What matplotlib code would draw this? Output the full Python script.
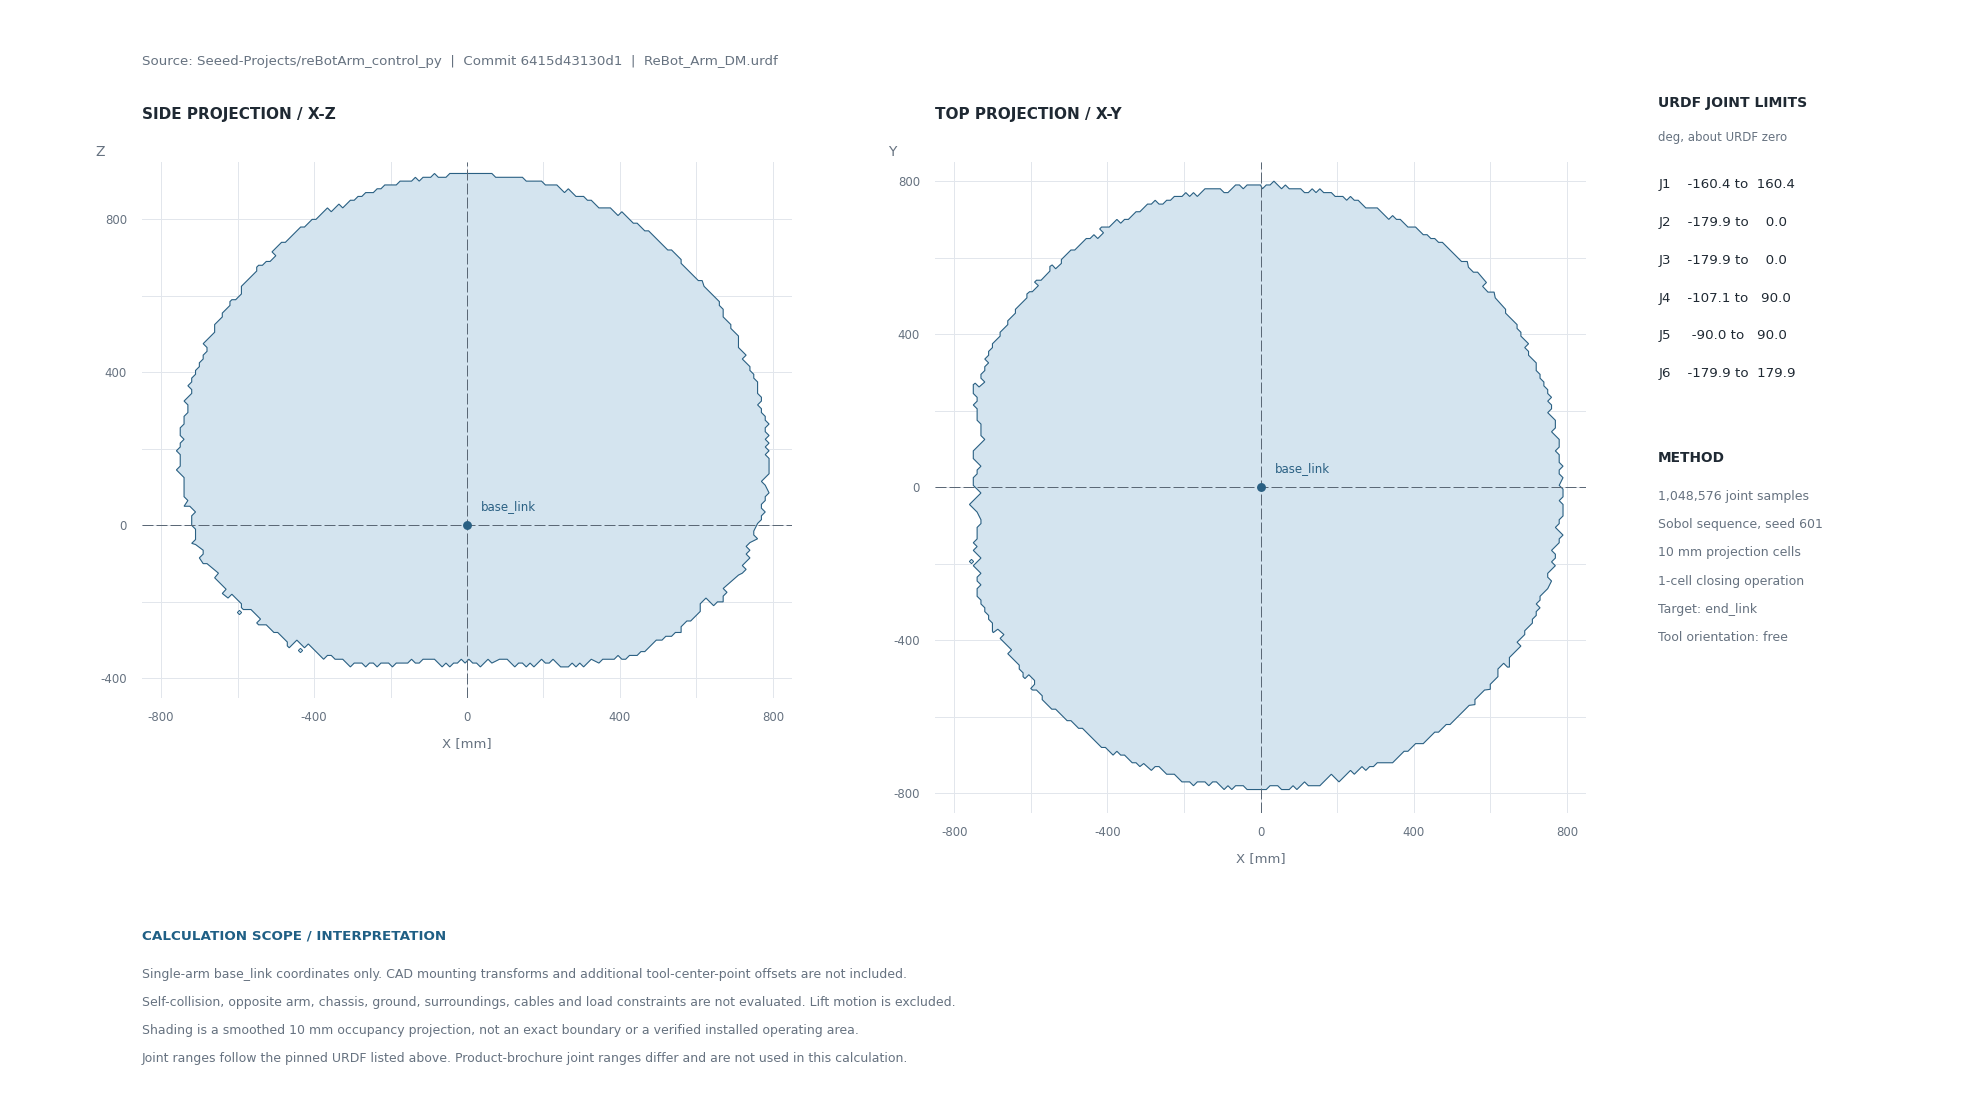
import numpy as np
import matplotlib
matplotlib.use("Agg")
import matplotlib.pyplot as plt

W, H = 1985, 1100

# outline of the side projection, X and Z in mm
side_outline = [
    (-740, 225), (-750, 235), (-750, 255), (-740, 265), (-740, 285), (-730, 295), (-730, 315), (-740, 325),
    (-720, 345), (-720, 355), (-730, 365), (-720, 375), (-720, 385), (-710, 395), (-710, 405), (-700, 415),
    (-700, 425), (-690, 435), (-690, 445), (-680, 455), (-680, 465), (-690, 475), (-660, 505), (-660, 525),
    (-640, 545), (-640, 555), (-620, 575), (-620, 585), (-615, 590), (-605, 590), (-590, 605), (-590, 625),
    (-550, 665), (-550, 675), (-545, 680), (-535, 680), (-525, 690), (-515, 690), (-500, 705), (-510, 715),
    (-485, 740), (-475, 740), (-435, 780), (-425, 780), (-405, 800), (-395, 800), (-365, 830), (-355, 820),
    (-335, 840), (-325, 830), (-305, 850), (-295, 850), (-285, 860), (-275, 860), (-265, 870), (-245, 870),
    (-235, 880), (-225, 880), (-215, 890), (-185, 890), (-175, 900), (-145, 900), (-135, 910), (-125, 900),
    (-115, 910), (-95, 910), (-85, 920), (-75, 910), (-55, 910), (-45, 920), (65, 920), (75, 910),
    (145, 910), (155, 900), (195, 900), (205, 890), (235, 890), (255, 870), (265, 880), (285, 860),
    (305, 860), (315, 850), (325, 850), (345, 830), (375, 830), (395, 810), (405, 820), (435, 790),
    (445, 790), (465, 770), (475, 770), (525, 720), (535, 720), (560, 695), (560, 685), (605, 640),
    (615, 640), (620, 625), (660, 585), (660, 575), (670, 565), (670, 545), (690, 525), (690, 515),
    (710, 495), (710, 465), (730, 445), (720, 435), (740, 415), (740, 405), (750, 395), (750, 385),
    (760, 375), (760, 345), (770, 335), (770, 325), (760, 315), (770, 305), (770, 295), (780, 285),
    (780, 275), (790, 265), (780, 255), (780, 245), (790, 235), (780, 225), (790, 215), (780, 205),
    (790, 195), (780, 185), (790, 175), (790, 135), (770, 115), (780, 105), (790, 85), (780, 75),
    (780, 65), (770, 55), (770, 45), (780, 35), (770, 25), (770, 15), (760, 5), (750, -15),
    (750, -25), (760, -35), (740, -45), (730, -55), (740, -65), (730, -75), (740, -85), (720, -105),
    (730, -115), (720, -125), (710, -130), (670, -165), (680, -175), (670, -185), (670, -200), (655, -200),
    (645, -210), (625, -190), (610, -205), (610, -225), (585, -250), (575, -250), (560, -265), (560, -280),
    (545, -280), (535, -290), (520, -290), (510, -300), (495, -300), (465, -330), (455, -330), (445, -340),
    (425, -340), (415, -350), (405, -350), (395, -340), (385, -350), (355, -350), (345, -360), (325, -350),
    (305, -370), (295, -360), (285, -370), (275, -360), (265, -370), (245, -370), (225, -350), (215, -360),
    (205, -360), (195, -350), (175, -370), (165, -360), (155, -370), (145, -360), (135, -360), (125, -370),
    (105, -350), (85, -350), (65, -360), (55, -350), (35, -370), (25, -360), (15, -360), (5, -350),
    (-5, -360), (-15, -350), (-25, -360), (-35, -360), (-45, -370), (-55, -360), (-65, -370), (-75, -360),
    (-85, -350), (-115, -350), (-125, -360), (-135, -360), (-145, -350), (-155, -360), (-185, -360), (-195, -370),
    (-205, -360), (-225, -360), (-235, -370), (-245, -360), (-255, -360), (-265, -370), (-275, -360), (-295, -360),
    (-305, -370), (-325, -350), (-345, -350), (-355, -340), (-365, -340), (-375, -350), (-415, -310), (-425, -320),
    (-445, -300), (-465, -320), (-470, -315), (-470, -305), (-495, -280), (-505, -280), (-525, -260), (-545, -260),
    (-550, -255), (-540, -245), (-565, -220), (-585, -220), (-590, -215), (-590, -205), (-615, -180), (-625, -190),
    (-640, -178), (-630, -167), (-660, -137), (-650, -125), (-680, -100), (-690, -100), (-700, -85), (-690, -75),
    (-690, -65), (-710, -50), (-720, -47), (-710, -37), (-710, -10), (-720, 0), (-720, 25), (-710, 35),
    (-725, 50), (-740, 50), (-730, 65), (-740, 75), (-740, 125), (-760, 145), (-750, 155), (-750, 185),
    (-760, 195), (-750, 205), (-750, 215),
]
# isolated cells left outside the side outline
side_islands = [(-596, -226), (-437, -326)]

# outline of the top projection, X and Y in mm
top_outline = [
    (-750, 5), (-750, 25), (-740, 35), (-740, 45), (-730, 55), (-750, 75), (-750, 95), (-720, 125),
    (-730, 135), (-730, 165), (-740, 175), (-740, 205), (-750, 215), (-740, 225), (-740, 235), (-750, 245),
    (-750, 268), (-745, 272), (-735, 262), (-720, 275), (-730, 285), (-730, 295), (-720, 305), (-720, 315),
    (-710, 325), (-720, 335), (-710, 345), (-710, 355), (-700, 365), (-700, 375), (-680, 395), (-680, 405),
    (-660, 425), (-660, 435), (-640, 455), (-640, 465), (-610, 495), (-610, 505), (-603, 511), (-596, 511),
    (-580, 527), (-590, 536), (-585, 541), (-573, 541), (-550, 565), (-550, 577), (-544, 581), (-535, 571),
    (-520, 585), (-520, 595), (-495, 620), (-485, 620), (-455, 650), (-445, 650), (-435, 660), (-425, 650),
    (-410, 665), (-420, 675), (-415, 680), (-395, 680), (-375, 700), (-365, 690), (-355, 700), (-345, 700),
    (-325, 720), (-315, 720), (-295, 740), (-285, 740), (-275, 750), (-265, 740), (-255, 740), (-245, 750),
    (-235, 750), (-225, 760), (-205, 760), (-195, 770), (-185, 760), (-175, 770), (-165, 760), (-145, 780),
    (-105, 780), (-95, 770), (-85, 770), (-65, 790), (-55, 790), (-45, 780), (-35, 790), (0, 790),
    (5, 780), (15, 790), (25, 790), (35, 800), (55, 780), (65, 790), (75, 780), (105, 780),
    (115, 770), (125, 770), (135, 780), (145, 770), (155, 780), (165, 770), (185, 770), (195, 760),
    (215, 760), (225, 750), (235, 760), (245, 750), (255, 750), (275, 730), (305, 730), (335, 700),
    (345, 710), (355, 700), (365, 700), (385, 680), (405, 680), (425, 660), (435, 660), (445, 650),
    (455, 650), (465, 640), (475, 640), (525, 590), (540, 590), (543, 575), (556, 562), (567, 562),
    (590, 535), (580, 525), (594, 510), (610, 510), (613, 495), (640, 465), (640, 455), (670, 425),
    (670, 415), (680, 405), (680, 395), (700, 375), (690, 365), (700, 355), (700, 345), (720, 325),
    (720, 305), (730, 295), (730, 285), (740, 275), (740, 265), (750, 255), (750, 245), (760, 235),
    (750, 225), (760, 215), (760, 205), (750, 195), (770, 175), (770, 155), (760, 145), (780, 125),
    (780, 105), (770, 95), (780, 85), (780, 65), (790, 55), (780, 45), (780, 35), (790, 25),
    (780, 5), (790, -5), (790, -25), (780, -35), (790, -45), (790, -75), (780, -85), (780, -95),
    (770, -105), (790, -125), (780, -135), (780, -145), (760, -165), (770, -175), (770, -185), (760, -195),
    (770, -205), (750, -225), (750, -235), (760, -245), (750, -265), (730, -285), (730, -295), (720, -305),
    (730, -315), (720, -325), (720, -335), (710, -345), (710, -355), (690, -375), (690, -385), (670, -405),
    (680, -415), (650, -445), (650, -470), (645, -470), (635, -460), (620, -475), (620, -495), (600, -515),
    (600, -528), (585, -530), (560, -555), (560, -568), (545, -570), (495, -620), (485, -620), (465, -640),
    (455, -640), (425, -670), (405, -670), (385, -690), (375, -690), (345, -720), (305, -720), (295, -730),
    (285, -730), (275, -740), (265, -730), (245, -750), (235, -740), (205, -770), (185, -750), (155, -780),
    (125, -780), (115, -770), (95, -790), (85, -780), (75, -790), (55, -790), (45, -780), (25, -780),
    (15, -790), (-35, -790), (-45, -780), (-65, -780), (-75, -790), (-85, -780), (-95, -790), (-115, -770),
    (-125, -770), (-135, -780), (-145, -770), (-165, -770), (-175, -780), (-185, -770), (-205, -770), (-225, -750),
    (-245, -750), (-265, -730), (-275, -730), (-285, -740), (-305, -722), (-315, -730), (-325, -720), (-335, -720),
    (-355, -700), (-365, -700), (-375, -690), (-385, -700), (-405, -680), (-415, -680), (-465, -630), (-475, -630),
    (-495, -610), (-505, -610), (-535, -580), (-545, -580), (-570, -555), (-570, -545), (-585, -530), (-595, -530),
    (-600, -526), (-590, -515), (-590, -505), (-605, -490), (-615, -500), (-620, -495), (-620, -485), (-630, -475),
    (-630, -465), (-660, -435), (-650, -425), (-680, -395), (-670, -385), (-686, -371), (-698, -380), (-700, -376),
    (-700, -355), (-710, -345), (-710, -335), (-720, -325), (-720, -315), (-730, -305), (-730, -295), (-740, -285),
    (-740, -265), (-730, -255), (-740, -245), (-740, -235), (-730, -225), (-750, -205), (-730, -185), (-750, -165),
    (-740, -155), (-750, -145), (-740, -135), (-740, -105), (-730, -95), (-730, -85), (-740, -65), (-760, -45),
    (-730, -15),
]
top_islands = [(-755, -194)]

tick_vals = [-800, -400, 0, 400, 800]
grid_vals = [-800, -600, -400, -200, 0, 200, 400, 600, 800]
side_z_ticks = [-400, 0, 400, 800]
side_z_grid = [-400, -200, 0, 200, 400, 600, 800]

joint_names = ["J1", "J2", "J3", "J4", "J5", "J6"]
joint_low = [-160.4, -179.9, -179.9, -107.1, -90.0, -179.9]
joint_high = [160.4, 0.0, 0.0, 90.0, 90.0, 179.9]

method_lines = [
    "1,048,576 joint samples",
    "Sobol sequence, seed 601",
    "10 mm projection cells",
    "1-cell closing operation",
    "Target: end_link",
    "Tool orientation: free",
]
scope_lines = [
    "Single-arm base_link coordinates only. CAD mounting transforms and additional tool-center-point offsets are not included.",
    "Self-collision, opposite arm, chassis, ground, surroundings, cables and load constraints are not evaluated. Lift motion is excluded.",
    "Shading is a smoothed 10 mm occupancy projection, not an exact boundary or a verified installed operating area.",
    "Joint ranges follow the pinned URDF listed above. Product-brochure joint ranges differ and are not used in this calculation.",
]

GREY = "#667280"
DARK = "#1F2933"
BLUE = "#2A6083"
FILL = "#D4E4EF"
GRID = "#E2E6EC"
DASH = "#5B6876"

fig = plt.figure(figsize=(W / 100, H / 100), dpi=100, facecolor="white")


def put(x, y, s, size=9, color=GREY, weight="normal", ha="left"):
    # x, y in figure pixels, y measured from the top
    fig.text(x / W, 1 - y / H, s, fontsize=size, color=color, fontweight=weight,
             ha=ha, va="center")


def panel(left, top, right, bottom, xlim, ylim, outline, islands, xgrid, ygrid, yticks, ylab):
    ax = fig.add_axes([left / W, 1 - bottom / H, (right - left) / W, (bottom - top) / H])
    ax.set_xlim(xlim)
    ax.set_ylim(ylim)
    for s in ax.spines.values():
        s.set_visible(False)
    ax.set_xticks(xgrid)
    ax.set_yticks(ygrid)
    ax.set_xticklabels([str(v) if v in tick_vals else "" for v in xgrid])
    ax.set_yticklabels([str(v) if v in yticks else "" for v in ygrid])
    ax.tick_params(length=0, labelsize=8.5, labelcolor=GREY, pad=0)
    ax.tick_params(axis="x", pad=9.6)
    ax.tick_params(axis="y", pad=10.8)
    ax.grid(True, color=GRID, linewidth=0.72, zorder=0)
    ax.set_axisbelow(True)

    pts = np.array(outline)
    ax.fill(pts[:, 0], pts[:, 1], facecolor=FILL, edgecolor=BLUE, linewidth=0.8, zorder=2)
    isl = np.array(islands)
    ax.plot(isl[:, 0], isl[:, 1], linestyle="none", marker="D", markersize=2.2,
            markerfacecolor=FILL, markeredgecolor=BLUE, markeredgewidth=0.7, zorder=2)

    # under one pixel wide so the dashes snap to a single pixel column
    ax.axhline(0, color=DASH, linewidth=0.72, linestyle=(0, (11, 3)), zorder=3)
    ax.axvline(0, color=DASH, linewidth=0.72, linestyle=(0, (11, 3)), zorder=3)
    ax.plot([0], [0], marker="o", markersize=6.4, color=BLUE, markeredgewidth=0, zorder=4)
    ax.annotate("base_link", (0, 0), xytext=(10, 13.5), textcoords="offset points",
                fontsize=8.5, color=BLUE, va="center", ha="left", zorder=5)
    ax.set_xlabel("X [mm]", fontsize=9.5, color=GREY, labelpad=9.5)
    put(left - 47, 152.5, ylab, size=10)
    return ax


panel(142, 162, 792, 697.5, (-850, 850), (-450, 950), side_outline, side_islands,
      grid_vals, side_z_grid, side_z_ticks, "Z")
panel(935, 162, 1586, 812.5, (-850, 850), (-850, 850), top_outline, top_islands,
      grid_vals, grid_vals, tick_vals, "Y")

put(142, 61.5, "Source: Seeed-Projects/reBotArm_control_py  |  Commit 6415d43130d1  |  ReBot_Arm_DM.urdf", size=9.6)
put(142, 114, "SIDE PROJECTION / X-Z", size=10.95, color=DARK, weight="bold")
put(935, 114, "TOP PROJECTION / X-Y", size=10.95, color=DARK, weight="bold")

put(1658, 103.5, "URDF JOINT LIMITS", size=10.1, color=DARK, weight="bold")
put(1658, 137, "deg, about URDF zero", size=8.5)
for i, name in enumerate(joint_names):
    put(1658.5, 184.7 + i * 37.8, f"{name}    {joint_low[i]:>6.1f} to {joint_high[i]:>6.1f}", size=9.6, color=DARK)

put(1658, 458.5, "METHOD", size=9.9, color=DARK, weight="bold")
for i, line in enumerate(method_lines):
    put(1658, 496.3 + i * 28.3, line, size=9)

put(142, 936, "CALCULATION SCOPE / INTERPRETATION", size=9.7, color="#1F5F85", weight="bold")
for i, line in enumerate(scope_lines):
    put(142, 974.5 + i * 28.1, line, size=9)

fig.savefig("out.png", dpi=100, facecolor="white")
